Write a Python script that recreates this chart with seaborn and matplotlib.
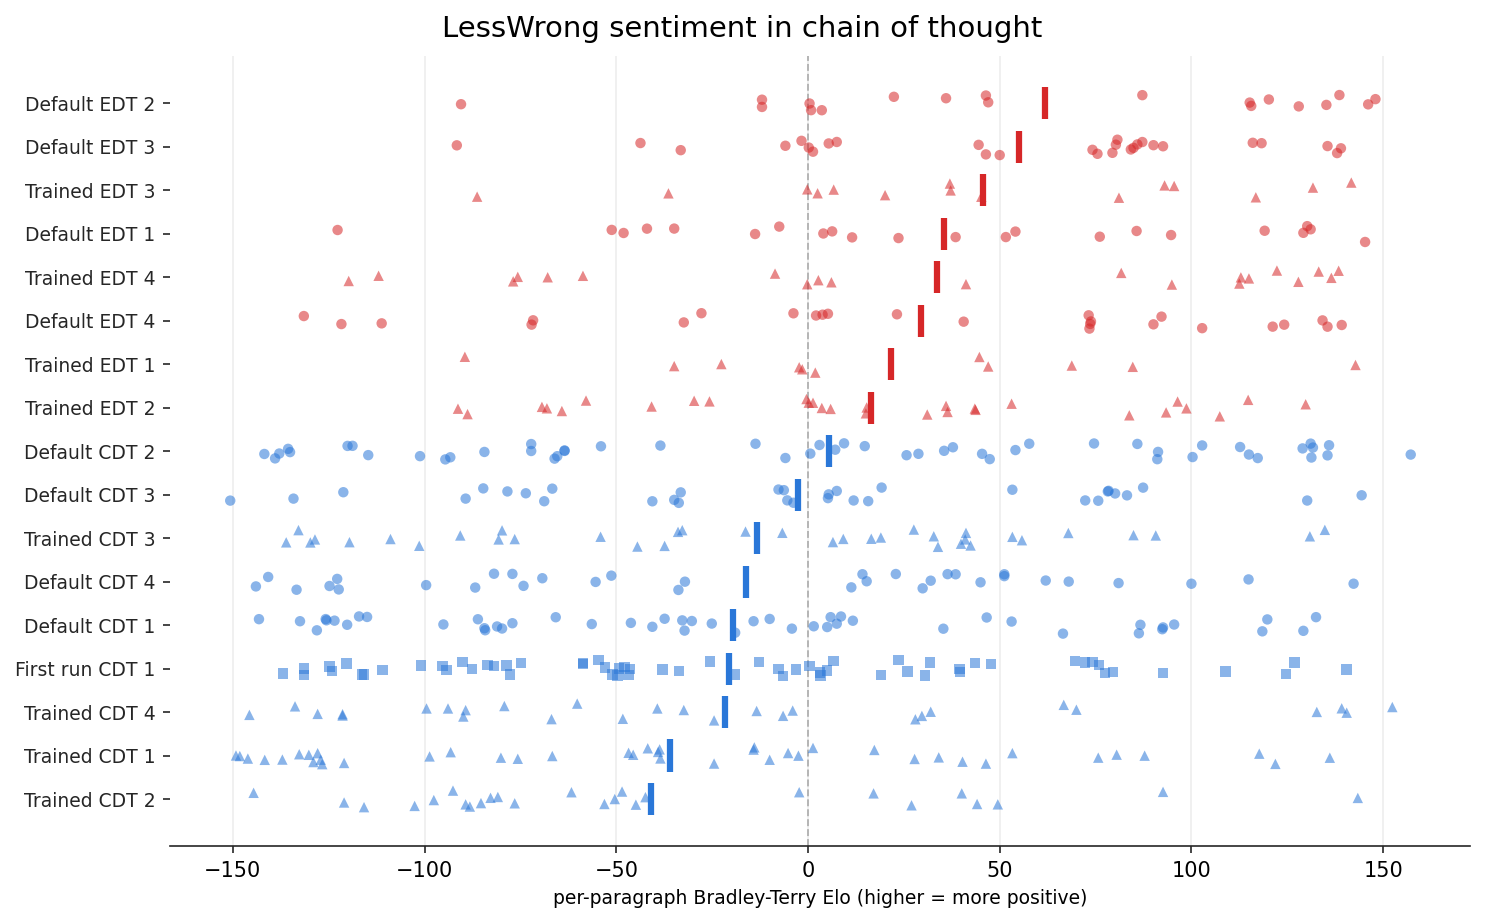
import matplotlib
matplotlib.use("Agg")
import matplotlib.pyplot as plt
import numpy as np
import pandas as pd
import seaborn as sns

# rows, top to bottom
labels = [
    "Default EDT 2", "Default EDT 3", "Trained EDT 3", "Default EDT 1",
    "Trained EDT 4", "Default EDT 4", "Trained EDT 1", "Trained EDT 2",
    "Default CDT 2", "Default CDT 3", "Trained CDT 3", "Default CDT 4",
    "Default CDT 1", "First run CDT 1", "Trained CDT 4", "Trained CDT 1",
    "Trained CDT 2",
]

default_edt_2 = [-90.5, -12, -12, 0.4, 0.8, 3.6, 22.4, 36, 46.4, 47, 87.2, 115.2, 115.6,
                 120.2, 128, 135.2, 138.6, 146.1, 148]
default_edt_3 = [-91.6, -43.7, -33.2, -5.9, -1.7, 0.2, 1.3, 5.4, 7.5, 44.5, 46.4, 50, 74.2,
                 75.5, 79.4, 80.3, 80.7, 84.2, 84.9, 85.9, 87.2, 90.1, 92.6, 116, 118.3,
                 135.5, 138, 139]
trained_edt_3 = [-86.3, -36.4, -0.2, 2.5, 6.7, 20.1, 37, 37.2, 45.2, 81.1, 93, 95.5, 116.8,
                 131.7, 141.7]
default_edt_1 = [-122.7, -51.2, -48.1, -42, -34.9, -13.8, -7.5, 4, 6.3, 11.5, 23.6, 38.5,
                 51.6, 54.1, 76.1, 85.7, 94.7, 119.1, 129.2, 130.2, 131.1, 145.3]
trained_edt_4 = [-119.8, -112, -76.9, -75.7, -67.9, -58.7, -8.6, -0.2, 2.7, 6.1, 41.2, 81.7,
                 94.9, 112.5, 112.9, 115, 122.3, 127.9, 133.2, 136.5, 138.4]
default_edt_4 = [-131.5, -121.7, -111.2, -72.1, -71.7, -32.4, -27.8, -3.8, 2.1, 3.8, 5.2,
                 23.2, 40.6, 73.2, 73.4, 73.6, 73.8, 90.1, 92.2, 102.8, 121.2, 124.2, 134.2,
                 135.5, 139.2]
trained_edt_1 = [-89.5, -34.9, -22.6, -2.3, -1.5, 1.9, 44.7, 47, 68.8, 84.7, 142.8]
trained_edt_2 = [-91.3, -88.8, -69.4, -68.1, -64.2, -57.9, -40.8, -29.7, -25.7, -0.4, 0.2,
                 1.3, 3.6, 5.9, 15.1, 15.3, 31.1, 36, 36.4, 43.5, 43.7, 53.1, 83.8, 93.4,
                 96.4, 98.7, 107.4, 114.8, 129.8]
default_cdt_2 = [-141.8, -139, -137.9, -135.6, -135.1, -120.1, -118.8, -114.7, -101.2,
                 -94.6, -93.3, -84.4, -72.2, -72.2, -66.1, -65.4, -63.5, -63.5, -54, -38.5,
                 -13.7, -5.9, 0.6, 3, 7.1, 9.4, 14.8, 25.7, 28.8, 35.5, 37.8, 45.4, 47.4,
                 54.1, 57.7, 74.6, 85.9, 91.1, 91.3, 100.3, 102.8, 112.7, 115, 117.3, 129,
                 131.1, 131.3, 131.7, 135.5, 135.9, 157.2]
default_cdt_3 = [-150.7, -134.2, -121.2, -89.3, -84.7, -78.4, -73.6, -68.8, -66.7, -40.6,
                 -34.9, -33.7, -33.2, -7.7, -6.3, -5.4, -3.8, 5.2, 5.4, 7.5, 11.9, 15.7,
                 19.2, 53.3, 72.3, 75.7, 78.2, 78.4, 80.1, 83.2, 87.4, 130.2, 144.4]
trained_cdt_3 = [-136.1, -132.9, -129.8, -128.6, -119.6, -108.9, -101.4, -90.7, -80.7, -79.8,
                 -76.5, -54.1, -44.5, -37.4, -33.9, -32.8, -16.3, -6.7, 6.5, 9.2, 16.5, 19,
                 27.6, 32.8, 33.9, 39.9, 41, 41.2, 42.4, 53.3, 55.8, 67.9, 84.9, 90.7,
                 130.9, 134.8]
default_cdt_4 = [-144, -140.8, -133.4, -124.8, -122.8, -122.4, -99.6, -86.8, -81.9, -77.1,
                 -74.2, -69.3, -55.4, -51.3, -33.8, -32.1, 11.3, 14.2, 15.3, 22.9, 29.9, 32,
                 36.4, 38.5, 45, 51.2, 51.2, 62, 68, 81, 100, 114.9, 142.3]
default_cdt_1 = [-143.2, -132.5, -128.1, -125.8, -125.6, -123.5, -120.2, -117.1, -115, -95.1,
                 -86.1, -84.4, -84.2, -81.1, -79.8, -77.1, -65.8, -56.4, -46.2, -40.6, -37.4,
                 -32.8, -32.2, -30.3, -25.1, -19, -14.2, -10, -4.2, 1.5, 5, 5.9, 7.5, 8.6,
                 11.7, 35.3, 46.6, 53.1, 66.5, 86.3, 86.7, 92.4, 92.6, 95.5, 118.5, 119.8,
                 129.2, 132.5]
first_run_cdt_1 = [-136.9, -131.5, -131.5, -124.8, -124.2, -120.4, -116.4, -115.8, -111,
                   -101, -95.3, -94.3, -90.1, -87.6, -83.6, -81.9, -78.6, -77.8, -74.8,
                   -58.7, -58.7, -54.6, -52.9, -51, -49.7, -49.3, -47.9, -46.8, -46.4, -38,
                   -33.7, -25.5, -19.2, -12.8, -7.7, -6.5, -3.1, 0.4, 3.1, 3.3, 5, 6.7, 19,
                   23.6, 25.9, 30.5, 31.8, 39.5, 39.7, 43.5, 47.7, 69.6, 72.3, 74.2, 75.9,
                   77.5, 79.6, 92.6, 108.9, 124.6, 126.9, 140.5]
trained_cdt_4 = [-145.7, -133.8, -127.9, -121.4, -121.4, -99.5, -93.9, -89.9, -89.3, -79.2,
                 -66.9, -60.2, -48.3, -39.3, -32.4, -24.5, -13.4, -6.5, -4, 28, 29.7, 32,
                 66.7, 70, 132.7, 139.2, 140.5, 152.4]
trained_cdt_1 = [-149.2, -148.2, -146.1, -141.7, -137.1, -132.7, -130.2, -129, -127.9, -127.1,
                 -126.7, -121, -98.7, -93.2, -80.1, -75.7, -66.7, -46.8, -45.6, -41.8, -39.1,
                 -38.7, -38.5, -24.5, -14.2, -14, -10, -5.2, -2.5, 1.3, 17.3, 27.8, 34.1,
                 40.3, 46.4, 53.3, 75.7, 80.5, 87.8, 117.7, 121.9, 136.1]
trained_cdt_2 = [-144.6, -121, -115.8, -102.6, -97.6, -92.6, -89.3, -88.2, -85.3, -82.8,
                 -80.9, -76.5, -61.7, -53.1, -50.4, -48.5, -44.9, -42.4, -2.3, 17.1, 27,
                 40.1, 44.1, 49.5, 92.6, 143.4]

values = [
    default_edt_2, default_edt_3, trained_edt_3, default_edt_1, trained_edt_4,
    default_edt_4, trained_edt_1, trained_edt_2, default_cdt_2, default_cdt_3,
    trained_cdt_3, default_cdt_4, default_cdt_1, first_run_cdt_1, trained_cdt_4,
    trained_cdt_1, trained_cdt_2,
]

RED = "#d62728"
BLUE = "#2a77d8"
markers = {"Default": "o", "Trained": "^", "First run": "s"}

rows = []
for lab, vals in zip(labels, values):
    kind = "First run" if lab.startswith("First run") else lab.split()[0]
    model = "EDT" if "EDT" in lab else "CDT"
    for v in vals:
        rows.append({"label": lab, "elo": v, "kind": kind, "model": model})
df = pd.DataFrame(rows)

sns.set_style("ticks")
plt.rcParams["font.family"] = ["DejaVu Sans"]
np.random.seed(3)

fig, ax = plt.subplots(figsize=(9.9, 6.16), dpi=150)
fig.subplots_adjust(left=0.1145, right=0.99, bottom=0.0844, top=0.939)

ax.grid(axis="x", color="#ededed", linewidth=0.8)
ax.set_axisbelow(True)
ax.axvline(0, color="0.7", linestyle="--", linewidth=0.9, zorder=1)

for kind, mk in markers.items():
    sub = df[df["kind"] == kind]
    sns.stripplot(data=sub, x="elo", y="label", hue="model", order=labels,
                  palette={"EDT": RED, "CDT": BLUE}, marker=mk, size=5,
                  alpha=0.55, jitter=0.2, linewidth=0, legend=False, ax=ax, zorder=2)

means = df.groupby("label", sort=False)["elo"].mean()
for i, lab in enumerate(labels):
    col = RED if "EDT" in lab else BLUE
    ax.vlines(means[lab], i - 0.37, i + 0.37, color=col, linewidth=3, zorder=3)

ax.set_xlim(-166.4, 172.7)
ax.set_ylim(17.08, -1.08)
ax.set_ylabel("")
ax.set_xlabel("per-paragraph Bradley-Terry Elo (higher = more positive)", fontsize=9,
              color="black")
fig.suptitle("LessWrong sentiment in chain of thought", fontsize=14, y=0.984,
             color="black")
ax.tick_params(axis="y", labelsize=9, length=3.5, width=0.8)
ax.tick_params(axis="x", labelsize=10, length=3.5, width=0.8, labelcolor="black")
for s in ax.spines.values():
    s.set_linewidth(0.8)
sns.despine(ax=ax, left=True)

fig.savefig("out.png", dpi=150)
